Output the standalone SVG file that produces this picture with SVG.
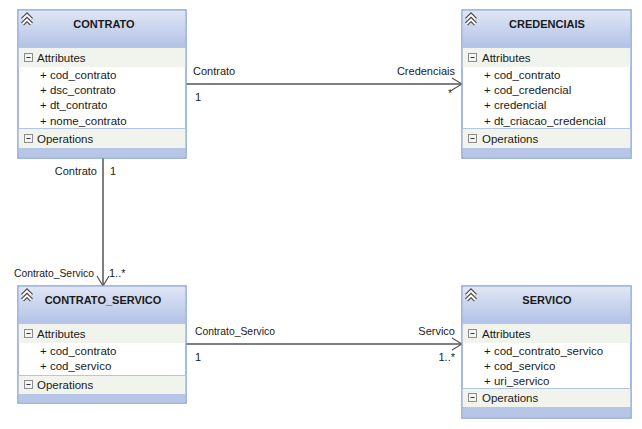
<svg xmlns="http://www.w3.org/2000/svg" width="642" height="429" viewBox="0 0 642 429">
<defs>
<linearGradient id="hdr" x1="0" y1="0" x2="0" y2="1">
<stop offset="0" stop-color="#dfe6f5"/>
<stop offset="1" stop-color="#b3c2e6"/>
</linearGradient>
<g id="chev">
<path d="M-4.5,4.5 L0,0 L4.5,4.5 M-4.5,9 L0,4.5 L4.5,9" fill="none" stroke="#4a4a4a" stroke-width="4.2" stroke-linejoin="miter"/>
<path d="M-4.5,4.5 L0,0 L4.5,4.5 M-4.5,9 L0,4.5 L4.5,9" fill="none" stroke="#ffffff" stroke-width="1.8" stroke-linejoin="miter"/>
</g>
<g id="minus">
<rect x="0.5" y="0.5" width="8" height="8" fill="#f4f4f4" stroke="#8c8c8c"/>
<line x1="2.5" y1="4.5" x2="6.5" y2="4.5" stroke="#333" stroke-width="1"/>
</g>
<marker id="arr" markerWidth="12" markerHeight="14" refX="11" refY="7" orient="auto" markerUnits="userSpaceOnUse">
<path d="M1,1 L11,7 L1,13" fill="none" stroke="#555" stroke-width="1.2"/>
</marker>
</defs>
<style>
.box{fill:#ffffff;stroke:#87a3d6;stroke-width:1.5}
.hdr{fill:url(#hdr)}
.row{fill:#f1f4ec}
.band{fill:#b7c5e6}
.sep{stroke:#b5c5e6;stroke-width:1}
.title{font-family:"Liberation Sans",Arial,sans-serif;font-size:11px;font-weight:bold;fill:#1a1a1a;text-anchor:middle}
.t{font-family:"Liberation Sans",Arial,sans-serif;font-size:11.5px;fill:#1a1a1a}
.lbl{font-family:"Liberation Sans",Arial,sans-serif;font-size:11px;fill:#1a1a1a}
.end{text-anchor:end}
.conn{stroke:#555;stroke-width:1.5;fill:none}
</style>
<rect width="642" height="429" fill="#ffffff"/>

<g id="connectors">
<line class="conn" x1="186" y1="84" x2="462" y2="84" marker-end="url(#arr)"/>
<line class="conn" x1="103" y1="158" x2="103" y2="286" marker-end="url(#arr)"/>
<line class="conn" x1="186" y1="344" x2="462" y2="344" marker-end="url(#arr)"/>
<text class="lbl" x="193" y="75">Contrato</text>
<text class="lbl" x="195" y="101">1</text>
<text class="lbl end" x="455" y="75">Credenciais</text>
<text class="lbl" x="448" y="97">*</text>
<text class="lbl end" x="97" y="175">Contrato</text>
<text class="lbl" x="110" y="175">1</text>
<text class="lbl end" x="94" y="277" textLength="80" lengthAdjust="spacingAndGlyphs">Contrato_Servico</text>
<text class="lbl" x="109" y="277">1..*</text>
<text class="lbl" x="195" y="335" textLength="80" lengthAdjust="spacingAndGlyphs">Contrato_Servico</text>
<text class="lbl" x="195" y="361">1</text>
<text class="lbl end" x="455" y="335">Servico</text>
<text class="lbl end" x="455" y="361">1..*</text>
</g>

<g id="contrato">
<rect class="box" x="18" y="10" width="168" height="148"/>
<rect class="hdr" x="18.75" y="10.75" width="166.5" height="36.25"/>
<rect class="row" x="18.75" y="47" width="166.5" height="20"/>
<rect class="row" x="18.75" y="128" width="166.5" height="20"/>
<rect class="band" x="18.75" y="148" width="166.5" height="9.25"/>
<line class="sep" x1="18.75" y1="47.5" x2="185.25" y2="47.5"/>
<line class="sep" x1="18.75" y1="128.5" x2="185.25" y2="128.5"/>
<use href="#chev" x="27" y="15"/>
<text class="title" x="104" y="28">CONTRATO</text>
<use href="#minus" x="24" y="53"/>
<text class="t" x="37" y="62">Attributes</text>
<text class="t" x="40" y="79">+ cod_contrato</text>
<text class="t" x="40" y="94">+ dsc_contrato</text>
<text class="t" x="40" y="109">+ dt_contrato</text>
<text class="t" x="40" y="125">+ nome_contrato</text>
<use href="#minus" x="24" y="134"/>
<text class="t" x="37" y="143">Operations</text>
</g>

<g id="credenciais">
<rect class="box" x="462" y="10" width="169" height="148"/>
<rect class="hdr" x="462.75" y="10.75" width="167.5" height="36.25"/>
<rect class="row" x="462.75" y="47" width="167.5" height="20"/>
<rect class="row" x="462.75" y="128" width="167.5" height="20"/>
<rect class="band" x="462.75" y="148" width="167.5" height="9.25"/>
<line class="sep" x1="462.75" y1="47.5" x2="630.25" y2="47.5"/>
<line class="sep" x1="462.75" y1="128.5" x2="630.25" y2="128.5"/>
<use href="#chev" x="471" y="15"/>
<text class="title" x="547" y="28">CREDENCIAIS</text>
<use href="#minus" x="468" y="53"/>
<text class="t" x="482" y="62">Attributes</text>
<text class="t" x="484" y="79">+ cod_contrato</text>
<text class="t" x="484" y="94">+ cod_credencial</text>
<text class="t" x="484" y="109">+ credencial</text>
<text class="t" x="484" y="125">+ dt_criacao_credencial</text>
<use href="#minus" x="468" y="134"/>
<text class="t" x="482" y="143">Operations</text>
</g>

<g id="contrato_servico">
<rect class="box" x="18" y="286" width="168" height="117"/>
<rect class="hdr" x="18.75" y="286.75" width="166.5" height="36.25"/>
<rect class="row" x="18.75" y="323" width="166.5" height="20"/>
<rect class="row" x="18.75" y="375" width="166.5" height="19"/>
<rect class="band" x="18.75" y="394" width="166.5" height="8.25"/>
<line class="sep" x1="18.75" y1="323.5" x2="185.25" y2="323.5"/>
<line class="sep" x1="18.75" y1="375.5" x2="185.25" y2="375.5"/>
<use href="#chev" x="27" y="291"/>
<text class="title" x="103" y="304">CONTRATO_SERVICO</text>
<use href="#minus" x="24" y="329"/>
<text class="t" x="37" y="338">Attributes</text>
<text class="t" x="40" y="355">+ cod_contrato</text>
<text class="t" x="40" y="370">+ cod_servico</text>
<use href="#minus" x="24" y="380"/>
<text class="t" x="37" y="389">Operations</text>
</g>

<g id="servico">
<rect class="box" x="462" y="286" width="169" height="132"/>
<rect class="hdr" x="462.75" y="286.75" width="167.5" height="36.25"/>
<rect class="row" x="462.75" y="323" width="167.5" height="20"/>
<rect class="row" x="462.75" y="388" width="167.5" height="19"/>
<rect class="band" x="462.75" y="407" width="167.5" height="10.25"/>
<line class="sep" x1="462.75" y1="323.5" x2="630.25" y2="323.5"/>
<line class="sep" x1="462.75" y1="388.5" x2="630.25" y2="388.5"/>
<use href="#chev" x="471" y="291"/>
<text class="title" x="547" y="304">SERVICO</text>
<use href="#minus" x="468" y="329"/>
<text class="t" x="482" y="338">Attributes</text>
<text class="t" x="484" y="355">+ cod_contrato_servico</text>
<text class="t" x="484" y="370">+ cod_servico</text>
<text class="t" x="484" y="385">+ uri_servico</text>
<use href="#minus" x="468" y="393"/>
<text class="t" x="482" y="402">Operations</text>
</g>
</svg>
